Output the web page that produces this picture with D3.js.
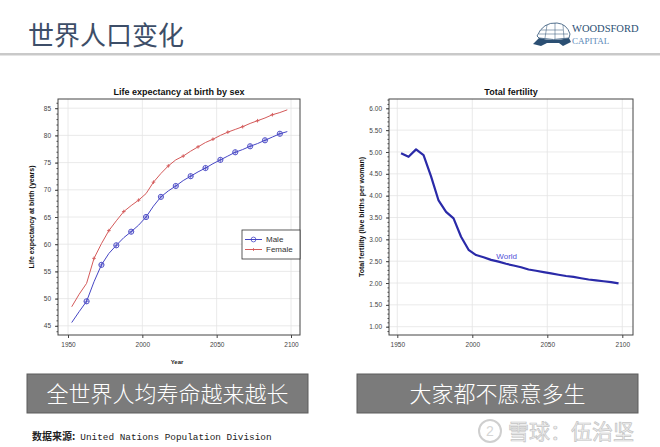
<!DOCTYPE html>
<html>
<head>
<meta charset="utf-8">
<script src="https://cdn.jsdelivr.net/npm/d3@7"></script>
<style>
  body { margin: 0; background: #fff; }
  svg { display: block; }
</style>
</head>
<body>
<div id="chart"></div>
<script>
// mid-period years (5-year periods)
const years = [1952.5, 1957.5, 1962.5, 1967.5, 1972.5, 1977.5, 1982.5, 1987.5, 1992.5, 1997.5,
  2002.5, 2007.5, 2012.5, 2017.5, 2022.5, 2027.5, 2032.5, 2037.5, 2042.5, 2047.5,
  2052.5, 2057.5, 2062.5, 2067.5, 2072.5, 2077.5, 2082.5, 2087.5, 2092.5, 2097.5]
const male = [45.6, 47.6, 49.5, 53.1, 56.2, 58.3, 59.8, 61.2, 62.3, 63.5,
  65.0, 67.0, 68.7, 69.8, 70.7, 71.7, 72.5, 73.3, 74.0, 74.8,
  75.5, 76.2, 76.9, 77.4, 78.0, 78.5, 79.1, 79.7, 80.3, 80.7]
const female = [48.5, 50.8, 52.8, 57.4, 60.1, 62.5, 64.3, 66.0, 67.1, 68.1,
  69.3, 71.4, 73.0, 74.4, 75.5, 76.2, 77.1, 77.9, 78.7, 79.3,
  80.0, 80.6, 81.1, 81.6, 82.2, 82.7, 83.2, 83.8, 84.2, 84.7]
const fertility = [4.97, 4.89, 5.06, 4.93, 4.44, 3.89, 3.63, 3.48, 3.06, 2.76,
  2.64, 2.59, 2.53, 2.49, 2.44, 2.40, 2.36, 2.31, 2.28, 2.25,
  2.22, 2.19, 2.16, 2.14, 2.11, 2.08, 2.06, 2.04, 2.02, 1.99]
const xTicks = [1950, 2000, 2050, 2100]
const lifeTicks = [45, 50, 55, 60, 65, 70, 75, 80, 85]
const fertTicks = [1, 1.5, 2, 2.5, 3, 3.5, 4, 4.5, 5, 5.5, 6]
const seriesNames = ['Male', 'Female']

const svg = d3.select('#chart').append('svg')
  .attr('width', 660).attr('height', 447)

const sans = 'Liberation Sans, Arial, sans-serif'
const cjk = 'Noto Sans CJK SC, sans-serif'

// header
svg.append('text').attr('x', 28).attr('y', 45)
  .attr('font-family', cjk).attr('font-size', 26).attr('fill', '#3d4e68')
  .text('世界人口变化')
svg.append('rect').attr('x', 0).attr('y', 53).attr('width', 660).attr('height', 2.5)
  .attr('fill', '#c9c9c9')

// logo
let logo = svg.append('g').attr('transform', 'translate(533,20)')
logo.append('path').attr('d', 'M4,16 Q10,2 24,3 Q34,4 37,14 L36,18 Q20,21 6,18 Z')
  .attr('fill', 'none').attr('stroke', '#2b4f73').attr('stroke-width', 0.8)
logo.append('path').attr('d', 'M8,10 L30,10 M6,14 L35,14 M14,5 L12,18 M22,3 L22,19 M30,5 L31,18')
  .attr('stroke', '#2b4f73').attr('stroke-width', 0.5)
logo.append('path').attr('d', 'M6,18 Q20,22 36,18 L38,22 L30,26 L26,23 L14,23 L8,26 L0,24 Z')
  .attr('fill', '#2b4f73')
logo.append('text').attr('x', 39).attr('y', 12)
  .attr('font-family', 'Liberation Serif, serif').attr('font-size', 10.5).attr('fill', '#2b4f73')
  .text('WOODSFORD')
logo.append('text').attr('x', 39).attr('y', 24)
  .attr('font-family', 'Liberation Serif, serif').attr('font-size', 9).attr('fill', '#5a88b8')
  .text('CAPITAL')

// generic panel drawing
function panel(opts) {
  const g = svg.append('g')
  const { x, y, left, right, top, bottom } = opts
  // grid
  g.selectAll('.hg').data(opts.yTicks).enter().append('line')
    .attr('x1', left).attr('x2', right)
    .attr('y1', d => y(d)).attr('y2', d => y(d))
    .attr('stroke', '#e4e4e4').attr('stroke-width', 0.8)
  g.selectAll('.vg').data(xTicks).enter().append('line')
    .attr('y1', top).attr('y2', bottom)
    .attr('x1', d => x(d)).attr('x2', d => x(d))
    .attr('stroke', '#e4e4e4').attr('stroke-width', 0.8)
  // frame
  g.append('rect').attr('x', left).attr('y', top)
    .attr('width', right - left).attr('height', bottom - top)
    .attr('fill', 'none').attr('stroke', '#444').attr('stroke-width', 1)
  // axes
  const xa = d3.axisBottom(x).tickValues(xTicks).tickFormat(d3.format('d'))
    .tickSize(3).tickPadding(4)
  const gx = g.append('g').attr('transform', `translate(0,${bottom})`).call(xa)
  gx.select('.domain').remove()
  const ya = d3.axisLeft(y).tickValues(opts.yTicks).tickFormat(opts.fmt)
    .tickSize(3).tickPadding(4)
  const gy = g.append('g').attr('transform', `translate(${left},0)`).call(ya)
  gy.select('.domain').remove()
  const minor = d3.axisLeft(y).tickValues(opts.minor).tickFormat('').tickSize(1.5)
  const gm = g.append('g').attr('transform', `translate(${left},0)`).call(minor)
  gm.select('.domain').remove()
  g.selectAll('.tick line').attr('stroke', '#444')
  g.selectAll('.tick text').attr('font-family', sans).attr('font-size', 6.5).attr('fill', '#444')
  // title
  g.append('text').attr('x', (left + right) / 2).attr('y', top - 4)
    .attr('text-anchor', 'middle').attr('font-family', sans).attr('font-weight', 'bold')
    .attr('font-size', 9).attr('fill', '#111').text(opts.title)
  g.append('text')
    .attr('transform', `translate(${opts.ylabX},${(top + bottom) / 2}) rotate(-90)`)
    .attr('text-anchor', 'middle').attr('font-family', sans).attr('font-weight', 'bold')
    .attr('font-size', 7).attr('fill', '#111').text(opts.ylab)
  return g
}

// left: life expectancy
const xL = d3.scaleLinear().domain([1950, 2100]).range([68, 291])
const yL = d3.scaleLinear().domain([45, 85]).range([325.8, 108.2])
const gL = panel({
  x: xL, y: yL, left: 58, right: 300, top: 99, bottom: 335,
  yTicks: lifeTicks, minor: d3.range(44, 87, 1), fmt: d3.format('d'),
  title: 'Life expectancy at birth by sex',
  ylab: 'Life expectancy at birth (years)', ylabX: 34
})
gL.append('text').attr('x', 177).attr('y', 364).attr('text-anchor', 'middle')
  .attr('font-family', sans).attr('font-weight', 'bold').attr('font-size', 6).attr('fill', '#222')
  .text('Year')

const lineL = (vals) => d3.line().x((d, i) => xL(years[i])).y(d => yL(d))(vals)
const maleColor = '#4646c4', femaleColor = '#d45a5a'
gL.append('path').attr('d', lineL(female)).attr('fill', 'none')
  .attr('stroke', femaleColor).attr('stroke-width', 1)
gL.append('path').attr('d', lineL(male)).attr('fill', 'none')
  .attr('stroke', maleColor).attr('stroke-width', 1)

const maleMarks = gL.selectAll('.mm').data(male.map((v, i) => [years[i], v]).filter((d, i) => i % 2 == 0 && i > 0))
  .enter().append('g').attr('transform', d => `translate(${xL(d[0])},${yL(d[1])})`)
maleMarks.append('circle').attr('r', 2.6).attr('fill', 'none').attr('stroke', maleColor).attr('stroke-width', 0.9)
maleMarks.append('path').attr('d', 'M-2.6,0H2.6M0,-2.6V2.6').attr('stroke', maleColor).attr('stroke-width', 0.7)

const femMarks = gL.selectAll('.fm').data(female.map((v, i) => [years[i], v]).filter((d, i) => i % 2 == 1 && i > 1 && i < 29))
  .enter().append('g').attr('transform', d => `translate(${xL(d[0])},${yL(d[1])})`)
femMarks.append('path').attr('d', 'M-1.8,0H1.8M0,-1.8V1.8').attr('stroke', femaleColor).attr('stroke-width', 0.9)

// legend
const leg = gL.append('g').attr('transform', 'translate(242,230)')
leg.append('rect').attr('width', 58).attr('height', 29).attr('fill', '#fff')
  .attr('stroke', '#333').attr('stroke-width', 0.8)
const li = leg.selectAll('.li').data(seriesNames).enter().append('g')
  .attr('transform', (d, i) => `translate(0,${9.5 + i * 10})`)
li.append('line').attr('x1', 3).attr('x2', 20)
  .attr('stroke', (d, i) => i ? femaleColor : maleColor).attr('stroke-width', 1)
li.filter((d, i) => i == 0).append('circle').attr('cx', 11.5).attr('r', 2.4)
  .attr('fill', 'none').attr('stroke', maleColor).attr('stroke-width', 0.8)
li.filter((d, i) => i == 1).append('path').attr('d', 'M10,0H13M11.5,-1.5V1.5')
  .attr('stroke', femaleColor).attr('stroke-width', 0.8)
li.append('text').attr('x', 24).attr('y', 2.8).attr('font-family', sans).attr('font-size', 8)
  .attr('fill', '#333').text(d => d)

// right: total fertility
const xR = d3.scaleLinear().domain([1950, 2100]).range([397.3, 622.3])
const yR = d3.scaleLinear().domain([1, 6]).range([326.7, 108.3])
const gR = panel({
  x: xR, y: yR, left: 389, right: 633, top: 99, bottom: 335,
  yTicks: fertTicks, minor: d3.range(0.9, 6.25, 0.1), fmt: d3.format('.2f'),
  title: 'Total fertility',
  ylab: 'Total fertility (live births per woman)', ylabX: 364
})
gR.append('path')
  .attr('d', d3.line().x((d, i) => xR(years[i])).y(d => yR(d))(fertility))
  .attr('fill', 'none').attr('stroke', '#2a2aa8').attr('stroke-width', 2.2)
  .attr('stroke-linejoin', 'round')
gR.append('text').attr('x', xR(2016)).attr('y', yR(2.55)).attr('font-family', sans)
  .attr('font-size', 8).attr('fill', '#5050d8').text('World')

// caption boxes
const captions = ['全世界人均寿命越来越长', '大家都不愿意多生']
const capX = [27, 357]
svg.selectAll('.cap').data(captions).enter().append('rect')
  .attr('x', (d, i) => capX[i]).attr('y', 374).attr('width', 281).attr('height', 39)
  .attr('fill', '#7b7b7b').attr('stroke', '#5c5c5c').attr('stroke-width', 1)
svg.selectAll('.capt').data(captions).enter().append('text')
  .attr('x', (d, i) => capX[i] + 140.5).attr('y', 401.5).attr('text-anchor', 'middle')
  .attr('font-family', cjk).attr('font-weight', 300).attr('font-size', 22).attr('fill', '#fff')
  .text(d => d)

// source
const src = svg.append('text').attr('x', 32).attr('y', 440).attr('fill', '#222')
src.append('tspan').attr('font-family', cjk).attr('font-weight', 'bold').attr('font-size', 10)
  .text('数据来源:')
src.append('tspan').attr('dx', 5).attr('font-family', 'Liberation Mono, monospace').attr('font-size', 9.4)
  .text('United Nations Population Division')

// watermark
const wm = svg.append('g')
wm.append('circle').attr('cx', 490).attr('cy', 431).attr('r', 11)
  .attr('fill', 'none').attr('stroke', '#cfcfcf').attr('stroke-width', 2)
wm.append('text').attr('x', 490).attr('y', 436).attr('text-anchor', 'middle')
  .attr('font-family', sans).attr('font-size', 14).attr('fill', '#d6d6d6').text('2')
wm.append('text').attr('x', 508).attr('y', 439)
  .attr('font-family', cjk).attr('font-size', 21).attr('fill', '#f0f0f0')
  .attr('stroke', '#c4c4c4').attr('stroke-width', 0.7)
  .text('雪球：伍治坚')
</script>
</body>
</html>
